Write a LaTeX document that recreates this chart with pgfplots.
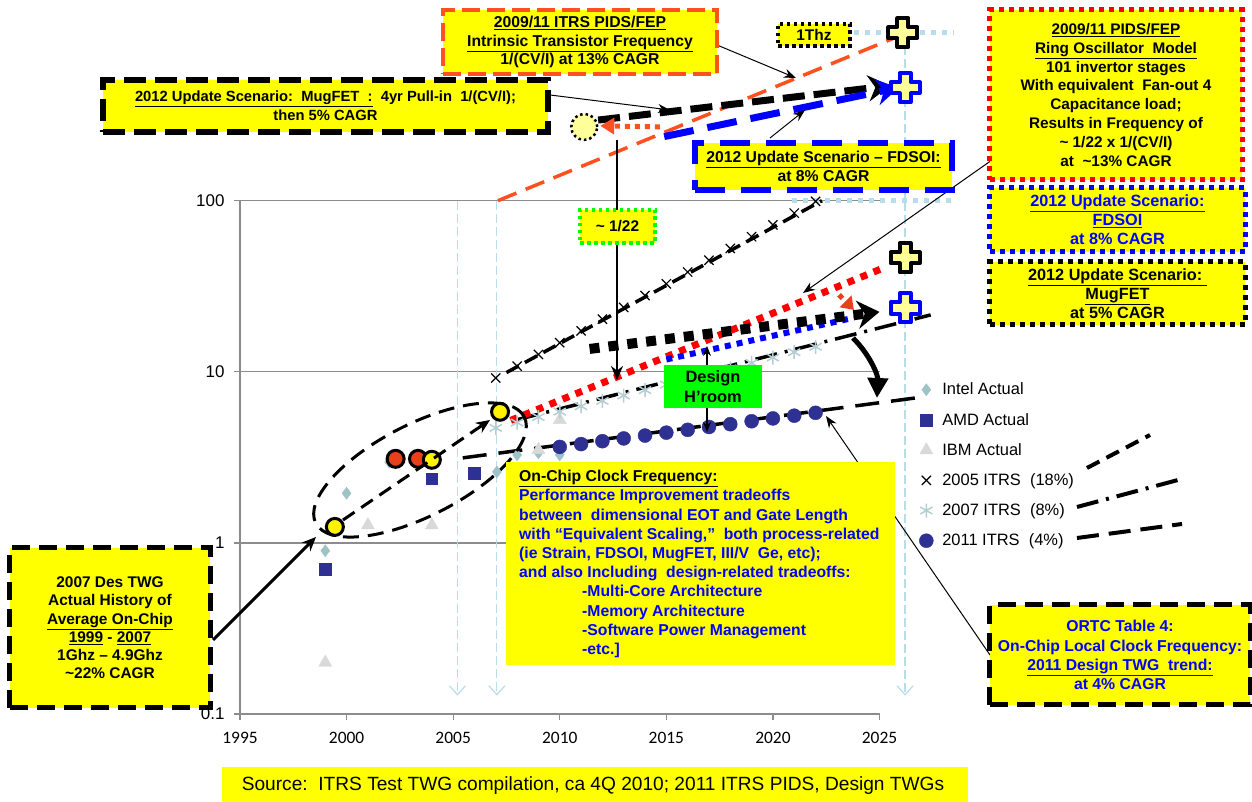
\documentclass[border=0pt]{standalone}
\usepackage{pgfplots}
\pgfplotsset{compat=1.18}
\usepackage{fontspec}
\setmainfont{Liberation Sans}
\newfontfamily\calibri{Carlito}
\usetikzlibrary{arrows.meta}

\definecolor{intel}{HTML}{9DC3C6}
\definecolor{amd}{HTML}{2E3192}
\definecolor{ibm}{HTML}{D9D9D9}
\definecolor{itrs07}{HTML}{B4CED3}
\definecolor{orred}{HTML}{FF5020}
\definecolor{ltblue}{HTML}{B7DDE8}
\definecolor{ylw}{HTML}{FFFF00}
\definecolor{ltyl}{HTML}{FFFF99}
\definecolor{txtblue}{HTML}{0000FF}
\definecolor{pblue}{HTML}{0000FF}
\definecolor{grn}{HTML}{00FF00}
\definecolor{gridgray}{HTML}{8C8C8C}
\definecolor{redc}{HTML}{E8401C}

\pgfdeclareplotmark{bigplus}{%
  \pgfpathmoveto{\pgfqpoint{0.38\pgfplotmarksize}{\pgfplotmarksize}}%
  \pgfpathlineto{\pgfqpoint{0.38\pgfplotmarksize}{0.38\pgfplotmarksize}}%
  \pgfpathlineto{\pgfqpoint{\pgfplotmarksize}{0.38\pgfplotmarksize}}%
  \pgfpathlineto{\pgfqpoint{\pgfplotmarksize}{-0.38\pgfplotmarksize}}%
  \pgfpathlineto{\pgfqpoint{0.38\pgfplotmarksize}{-0.38\pgfplotmarksize}}%
  \pgfpathlineto{\pgfqpoint{0.38\pgfplotmarksize}{-\pgfplotmarksize}}%
  \pgfpathlineto{\pgfqpoint{-0.38\pgfplotmarksize}{-\pgfplotmarksize}}%
  \pgfpathlineto{\pgfqpoint{-0.38\pgfplotmarksize}{-0.38\pgfplotmarksize}}%
  \pgfpathlineto{\pgfqpoint{-\pgfplotmarksize}{-0.38\pgfplotmarksize}}%
  \pgfpathlineto{\pgfqpoint{-\pgfplotmarksize}{0.38\pgfplotmarksize}}%
  \pgfpathlineto{\pgfqpoint{-0.38\pgfplotmarksize}{0.38\pgfplotmarksize}}%
  \pgfpathlineto{\pgfqpoint{-0.38\pgfplotmarksize}{\pgfplotmarksize}}%
  \pgfpathclose
  \pgfusepathqfillstroke
}

\begin{document}
\begin{tikzpicture}
\path[use as bounding box] (0,0) rectangle (1252bp,802bp);
\begin{axis}[
  at={(240bp,88bp)}, anchor=south west,
  scale only axis, width=639.5bp, height=513.3bp,
  xmin=1995, xmax=2025, ymin=0.1, ymax=100,
  ymode=log, clip=false,
  axis x line*=bottom, axis y line*=left,
  axis line style={draw=gridgray, line width=1.3bp},
  xtick={1995,2000,2005,2010,2015,2020,2025},
  ytick={0.1,1,10,100}, yticklabels={0.1,1,10,100},
  yminorticks=false,
  tick align=outside, major tick length=6bp,
  tick style={draw=gridgray, line width=1.2bp},
  ymajorgrids, major grid style={draw=gridgray, line width=1.3bp},
  /pgf/number format/1000 sep={},
  /pgf/number format/assume math mode=true,
  xticklabel style={font=\calibri\fontsize{17.5}{20}\selectfont, yshift=-9bp},
  yticklabel style={font=\fontsize{17}{20}\selectfont, xshift=-6bp},
  legend style={at={(1.062,0.649)}, anchor=north west, draw=none, fill=none,
    font=\fontsize{16.5}{19}\selectfont, row sep=12.8bp, inner sep=0pt,
    /tikz/every odd column/.append style={column sep=7bp}},
  legend cell align=left,
  legend image code/.code={\draw[mark repeat=1,#1] plot coordinates {(0bp,0bp)};},
]
% reference guide lines (light blue)
\addplot[forget plot, ltblue, line width=1.2bp, dash pattern=on 9bp off 4bp, -{Straight Barb[length=9bp,width=16bp]}] coordinates {(2005.2,100) (2005.2,0.128)};
\addplot[forget plot, ltblue, line width=1.2bp, dash pattern=on 9bp off 4bp, -{Straight Barb[length=9bp,width=16bp]}] coordinates {(2007.05,100) (2007.05,0.128)};
\addplot[forget plot, ltblue, line width=1.2bp, dash pattern=on 9bp off 4bp, -{Straight Barb[length=9bp,width=16bp]}] coordinates {(2026.2,960) (2026.2,0.128)};
\addplot[forget plot, ltblue, line width=5bp, dash pattern=on 5bp off 6bp] coordinates {(2023.8,960) (2028.5,960)};
\addplot[forget plot, ltblue, line width=5bp, dash pattern=on 5bp off 6bp] coordinates {(2020.9,100) (2028.5,100)};
% trend lines
\addplot[forget plot, black, line width=3.5bp, dash pattern=on 14bp off 7bp] coordinates {(2007.5,9.9) (2022.3,100)};
\addplot[forget plot, black, line width=3.5bp, dash pattern=on 22bp off 8bp on 3bp off 8bp] coordinates {(2008,5.25) (2027.4,21.5)};
\addplot[forget plot, black, line width=3.5bp, dash pattern=on 24bp off 12bp] coordinates {(2005.45,3.14) (2026.75,7.05)};
% scenario lines (lower)
\addplot[forget plot, red, line width=7bp, dash pattern=on 7bp off 7bp] coordinates {(2007.7,5.2) (2025.2,40.5)};
\addplot[forget plot, pblue, line width=6bp, dash pattern=on 6bp off 6bp] coordinates {(2015.0,11.8) (2023.8,20.7)};
\addplot[forget plot, black, line width=10bp, dash pattern=on 10bp off 9bp, -{Stealth[length=22bp,width=28bp]}] coordinates {(2011.4,13.6) (2025.0,22.4)};
\addplot[forget plot, redc, line width=5bp, dash pattern=on 5bp off 5bp, -{Triangle[length=12bp,width=16bp]}] coordinates {(2023.1,28.2) (2023.8,23.0)};
% scenario lines (upper)
\addplot[forget plot, only marks, mark=*, mark size=13bp, mark options={fill=ltyl, draw=black, line width=2.5bp, dash pattern=on 2.5bp off 3bp}] coordinates {(2011.15,270)};
\addplot[forget plot, orred, line width=3.5bp, dash pattern=on 20bp off 10bp] coordinates {(2007.1,100) (2026.3,960)};
\addplot[forget plot, black, line width=7bp, dash pattern=on 22bp off 9bp, -{Stealth[length=22bp,width=26bp]}] coordinates {(2011.8,296) (2025.5,470)};
\addplot[forget plot, pblue, line width=7bp, dash pattern=on 30bp off 14bp, -{Stealth[length=22bp,width=26bp]}] coordinates {(2014.9,237) (2025.9,458)};
\addplot[forget plot, orred, line width=5bp, dash pattern=on 5bp off 5bp, -{Triangle[length=14bp,width=16bp]}] coordinates {(2014.7,270) (2011.9,274)};
% end crosses
\addplot[forget plot, only marks, mark=bigplus, mark size=14.5bp, mark options={fill=ltyl, draw=black, line width=4bp, line join=round}] coordinates {(2026.1,960) (2026.2,46.4)};
\addplot[forget plot, only marks, mark=bigplus, mark size=14.5bp, mark options={fill=ltyl, draw=pblue, line width=4bp, line join=round}] coordinates {(2026.2,458) (2026.2,23.6)};
% data series
\addplot[only marks, mark=diamond*, mark size=6bp, mark options={fill=intel, draw=intel}] coordinates {(1999,0.9) (2000,1.95) (2002,2.97) (2003.1,3.1) (2007.05,2.6) (2008,3.27) (2009,3.36) (2010,3.27)};
\addlegendentry{Intel Actual}
\addplot[only marks, mark=square*, mark size=5.8bp, mark options={fill=amd, draw=amd}] coordinates {(1999,0.70) (2004,2.37) (2006,2.56)};
\addlegendentry{AMD Actual}
\addplot[only marks, mark=triangle*, mark size=7.5bp, mark options={fill=ibm, draw=ibm}] coordinates {(1999,0.20) (2001,1.27) (2004,1.27) (2009,3.5) (2010,5.24)};
\addlegendentry{IBM Actual}
\addplot[only marks, mark=x, mark size=6.5bp, mark options={draw=black, line width=1.2bp}] coordinates {(2007,9.2) (2008,10.78) (2009,12.63) (2010,14.8) (2011,17.34) (2012,20.3) (2013,23.8) (2014,27.9) (2015,32.7) (2016,38.3) (2017,44.9) (2018,52.6) (2019,61.6) (2020,72.2) (2021,84.6) (2022,99.1)};
\addlegendentry{2005 ITRS\ \ (18\%)}
\addplot[only marks, mark=asterisk, mark size=7bp, mark options={draw=itrs07, line width=1.5bp}] coordinates {(2007,4.7) (2008,5.05) (2009,5.44) (2010,5.85) (2011,6.29) (2012,6.76) (2013,7.27) (2014,7.82) (2015,8.41) (2016,9.05) (2017,9.73) (2018,10.47) (2019,11.26) (2020,12.11) (2021,13.02) (2022,14.0)};
\addlegendentry{2007 ITRS\ \ (8\%)}
\addplot[only marks, mark=*, mark size=7bp, mark options={fill=amd, draw=amd}] coordinates {(2010,3.64) (2011,3.78) (2012,3.93) (2013,4.08) (2014,4.24) (2015,4.41) (2016,4.58) (2017,4.76) (2018,4.94) (2019,5.14) (2020,5.34) (2021,5.54) (2022,5.76)};
\addlegendentry{2011 ITRS\ \ (4\%)}
% highlighted history points
\addplot[forget plot, only marks, mark=*, mark size=8.5bp, mark options={fill=redc, draw=black, line width=3bp}] coordinates {(2002.3,3.10) (2003.35,3.10)};
\addplot[forget plot, only marks, mark=*, mark size=8.5bp, mark options={fill=yellow, draw=black, line width=3bp}] coordinates {(1999.45,1.24) (2004.0,3.06) (2007.2,5.84)};
\end{axis}

\begin{scope}[yshift=802bp, x=1bp, y=-1bp]
\tikzset{box/.style={fill=ylw, inner sep=0pt, align=center, font=\fontsize{15.5}{19}\selectfont\bfseries},
         thin arrow/.style={line width=1bp, -{Stealth[length=12bp,width=9bp]}}}
% ellipse and arrows around history
\draw[line width=3bp, dash pattern=on 16bp off 9bp, rotate around={27:(420,470)}] (420,470) ellipse [x radius=117bp, y radius=46bp];
\draw[line width=3bp, dash pattern=on 14bp off 8bp, -{Stealth[length=14bp,width=12bp]}] (343,520) -- (490,420);
\draw[line width=3bp, -{Stealth[length=14bp,width=12bp]}] (213,640) -- (316,537);
% big curved arrow
\draw[line width=5bp, -{Triangle[length=20bp,width=20bp]}] (853,338) .. controls (870,355) and (878,375) .. (877,398);
% design headroom
\draw[line width=1.5bp, {Stealth[length=10bp,width=8bp]}-{Stealth[length=10bp,width=8bp]}] (707,346) -- (707,432);
\node[fill=grn, minimum width=98bp, minimum height=43bp, inner sep=0pt, align=center, font=\fontsize{16.5}{19.5}\selectfont\bfseries] at (713,386.5) {Design\\H’room};
% 1/22 arrow
\draw[line width=2bp, -{Stealth[length=14bp,width=12bp]}] (617,140) -- (617,380);
\node[box, draw=grn, line width=3.5bp, dash pattern=on 3.5bp off 3.5bp, minimum width=75bp, minimum height=33bp] at (617.5,226.5) {\textasciitilde\ 1/22};
% thin connectors
\draw[thin arrow] (717,45) -- (796,78);
\draw[thin arrow] (550,95) -- (670,110);
\draw[thin arrow] (770,138) -- (805,110);
\draw[thin arrow] (992,160) -- (803,293);
\draw[thin arrow] (990,655) -- (826,416);
% legend line samples
\draw[line width=4bp, dash pattern=on 14bp off 8bp] (1087,468) -- (1150,435);
\draw[line width=4bp, dash pattern=on 22bp off 8bp on 3bp off 8bp] (1077,507) -- (1178,480);
\draw[line width=4bp, dash pattern=on 22bp off 10bp] (1077,538) -- (1182,524);
% boxes
\node[box, draw=black, line width=5.5bp, dash pattern=on 22bp off 9bp, minimum width=445bp, minimum height=52bp, font=\fontsize{14.8}{19}\selectfont\bfseries] at (325.5,106) {\underline{2012 Update Scenario:\ \ MugFET\ \ :}\ \ 4yr Pull-in\ \ 1/(CV/I);\\then 5\% CAGR};
\node[box, draw=orred, line width=3.5bp, dash pattern=on 18bp off 7bp, minimum width=274bp, minimum height=64bp, font=\fontsize{15.8}{19}\selectfont\bfseries] at (580,42) {\underline{2009/11 ITRS PIDS/FEP}\\\underline{Intrinsic Transistor Frequency}\\1/(CV/I) at 13\% CAGR};
\node[box, draw=black, line width=3.5bp, dash pattern=on 3.5bp off 3.5bp, minimum width=72bp, minimum height=22bp] at (814,35) {1Thz};
\node[box, draw=pblue, line width=6bp, dash pattern=on 30bp off 16bp, minimum width=257bp, minimum height=47bp, font=\fontsize{15.8}{19.5}\selectfont\bfseries] at (823.5,166.5) {\underline{2012 Update Scenario \textendash{} FDSOI:}\\at 8\% CAGR};
\node[box, draw=red, line width=5bp, dash pattern=on 5bp off 5bp, minimum width=252bp, minimum height=170bp, font=\fontsize{15.4}{19}\selectfont\bfseries] at (1116,95) {\underline{2009/11 PIDS/FEP}\\\underline{Ring Oscillator\ \ Model}\\101 invertor stages\\With equivalent\ \ Fan-out 4\\Capacitance load;\\Results in Frequency of\\\textasciitilde\ 1/22 x 1/(CV/I)\\at\ \ \textasciitilde13\% CAGR};
\node[box, draw=pblue, text=txtblue, line width=5bp, dash pattern=on 5bp off 5bp, minimum width=255bp, minimum height=64bp, font=\fontsize{16.3}{19}\selectfont\bfseries] at (1117.5,220) {\underline{2012 Update Scenario:}\\\underline{FDSOI}\\at 8\% CAGR};
\node[box, draw=black, line width=5bp, dash pattern=on 5bp off 5bp, minimum width=255bp, minimum height=63bp, font=\fontsize{16.3}{19}\selectfont\bfseries] at (1117.5,293.5) {\underline{2012 Update Scenario:\ }\\\underline{MugFET}\\at 5\% CAGR};
\fill[ylw] (506,462) rectangle (895,665);
\node[anchor=north west, align=left, inner sep=0pt, text=txtblue, font=\fontsize{15.8}{19.3}\selectfont\bfseries] at (519,470) {\textcolor{black}{\underline{On-Chip Clock Frequency:}}\\Performance Improvement tradeoffs\\between\ \ dimensional EOT and Gate Length\\with “Equivalent Scaling,”\ \ both process-related\\(ie Strain, FDSOI, MugFET, III/V\ \ Ge, etc);\\and also Including\ \ design-related tradeoffs:\\\hspace*{63bp}-Multi-Core Architecture\\\hspace*{63bp}-Memory Architecture\\\hspace*{63bp}-Software Power Management\\\hspace*{63bp}-etc.]};
\node[box, draw=black, line width=5bp, dash pattern=on 18bp off 9bp, minimum width=200bp, minimum height=160bp, font=\fontsize{15.5}{18.3}\selectfont\bfseries] at (110,628) {2007 Des TWG\\Actual History of\\\underline{Average On-Chip}\\\underline{1999} - \underline{2007}\\1Ghz \textendash{} 4.9Ghz\\\textasciitilde22\% CAGR};
\node[box, draw=black, text=txtblue, line width=5bp, dash pattern=on 18bp off 9bp, minimum width=260bp, minimum height=100bp, font=\fontsize{15.8}{19.3}\selectfont\bfseries] at (1120,655) {ORTC Table 4:\\On-Chip Local Clock Frequency:\\\underline{2011 Design TWG\ \ trend:}\\at 4\% CAGR};
\fill[ylw] (222,767) rectangle (968,802);
\node[font=\fontsize{19.2}{22}\selectfont, inner sep=0pt] at (593,786) {Source:\ \ ITRS Test TWG compilation, ca 4Q 2010; 2011 ITRS PIDS, Design TWGs};
\end{scope}
\end{tikzpicture}
\end{document}
